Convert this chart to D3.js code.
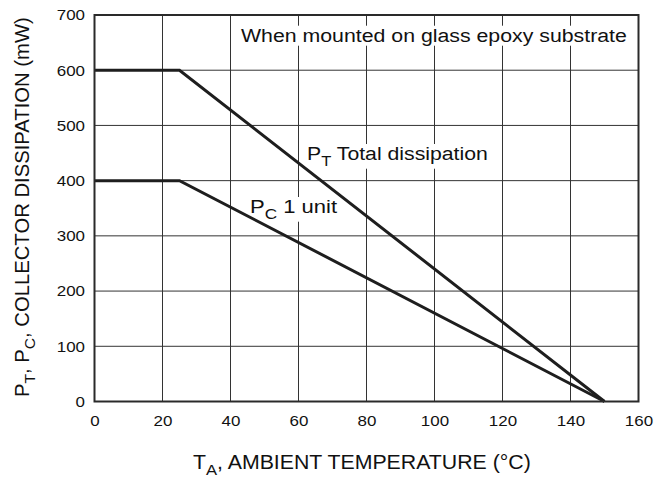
<!DOCTYPE html>
<html><head><meta charset="utf-8">
<script src="https://cdn.jsdelivr.net/npm/d3@7"></script>
<style>body{margin:0;background:#fff}text{font-family:"Liberation Sans",Arial,sans-serif;fill:#111}</style>
</head><body><svg id="c" width="661" height="481"></svg>
<script>
const xTicks = [0,20,40,60,80,100,120,140,160];
const yTicks = [0,100,200,300,400,500,600,700];
const tempPT = [0,25,150];
const valPT = [600,600,0];
const tempPC = [0,25,150];
const valPC = [400,400,0];

const svg = d3.select("#c");
const L=94.5,R=638.5,T=15,B=401.5;
const x = d3.scaleLinear().domain([0,160]).range([L,R]);
const y = d3.scaleLinear().domain([0,700]).range([B,T]);

// gridlines
svg.append("g").selectAll("line").data(xTicks.slice(1,-1)).join("line")
  .attr("x1",d=>x(d)).attr("x2",d=>x(d)).attr("y1",T).attr("y2",B)
  .attr("stroke","#333").attr("stroke-width",1);
svg.append("g").selectAll("line").data(yTicks.slice(1,-1)).join("line")
  .attr("x1",L).attr("x2",R).attr("y1",d=>y(d)).attr("y2",d=>y(d))
  .attr("stroke","#333").attr("stroke-width",1);

function richText(parent, parts, size, subSize, subDy){
  const t = parent.append("text").attr("x",0).attr("y",0).attr("font-size",size);
  parts.forEach(p=>{
    if(p.sub){
      t.append("tspan").attr("font-size",subSize).attr("dy",subDy).text(p.t);
    } else {
      const s=t.append("tspan").text(p.t);
      if(p.back) s.attr("dy",-subDy);
    }
  });
  return t;
}
function placed(parts, px, py, size, target, opts={}){
  const g = svg.append("g");
  const inner = g.append("g");
  const t = richText(inner, parts, size, size*0.78, size*0.3);
  const bb = t.node().getBBox();
  const sx = target/bb.width;
  let tx = px;
  if(opts.anchor==="middle") tx = px - target/2;
  if(opts.bg){
    inner.insert("rect","text").attr("x",bb.x-2).attr("y",bb.y+1).attr("width",bb.width+4).attr("height",bb.height-1).attr("fill","#fff");
  }
  g.attr("transform",`translate(${tx},${py})`);
  inner.attr("transform",`translate(${-bb.x*sx},0) scale(${sx},1)`);
  return g;
}

placed([{t:"When mounted on glass epoxy substrate"}], 241, 41.7, 18.6, 386, {bg:true});
placed([{t:"P"},{t:"T",sub:true},{t:" Total dissipation",back:true}], 307, 160, 19, 181, {bg:true});
placed([{t:"P"},{t:"C",sub:true},{t:" 1 unit",back:true}], 250, 213, 19, 88, {bg:true});

// data lines
const line = d3.line().x(d=>x(d[0])).y(d=>y(d[1]));
[[tempPT,valPT],[tempPC,valPC]].forEach(([xs,vs])=>{
  svg.append("path").datum(xs.map((v,i)=>[v,vs[i]])).attr("d",line)
    .attr("fill","none").attr("stroke","#1e1e1e").attr("stroke-width",3).attr("stroke-linejoin","miter");
});

// frame
svg.append("rect").attr("x",L).attr("y",T).attr("width",R-L).attr("height",B-T)
  .attr("fill","none").attr("stroke","#2a2a2a").attr("stroke-width",2);

// axes tick labels
const xa = svg.append("g").attr("transform",`translate(0,${B})`)
  .call(d3.axisBottom(x).tickValues(xTicks).tickSize(0).tickPadding(14));
xa.select(".domain").remove();
xa.selectAll("text").attr("font-size",15).attr("font-family","Liberation Sans, Arial, sans-serif").attr("fill","#111")
  .attr("transform","scale(1.13,1)").attr("x",0);
const ya = svg.append("g").attr("transform",`translate(${L},0)`)
  .call(d3.axisLeft(y).tickValues(yTicks).tickSize(0).tickPadding(9.5));
ya.select(".domain").remove();
ya.selectAll("text").attr("font-size",15).attr("font-family","Liberation Sans, Arial, sans-serif").attr("fill","#111")
  .attr("transform","scale(1.13,1)").attr("x",-9.5/1.13);

// axis titles
placed([{t:"T"},{t:"A",sub:true},{t:", AMBIENT TEMPERATURE (°C)",back:true}], 362, 469, 19.5, 338, {anchor:"middle"});
(function(){
  const g = svg.append("g");
  const inner = g.append("g");
  const t = richText(inner, [{t:"P"},{t:"T",sub:true},{t:", P",back:true},{t:"C",sub:true},{t:", COLLECTOR DISSIPATION (mW)",back:true}], 19.5, 15, 5.5);
  const bb = t.node().getBBox();
  const target = 380, sx = target/bb.width;
  inner.attr("transform",`translate(${-target/2 - bb.x*sx},0) scale(${sx},1)`);
  g.attr("transform",`translate(29,207) rotate(-90)`);
})();
</script></body></html>
